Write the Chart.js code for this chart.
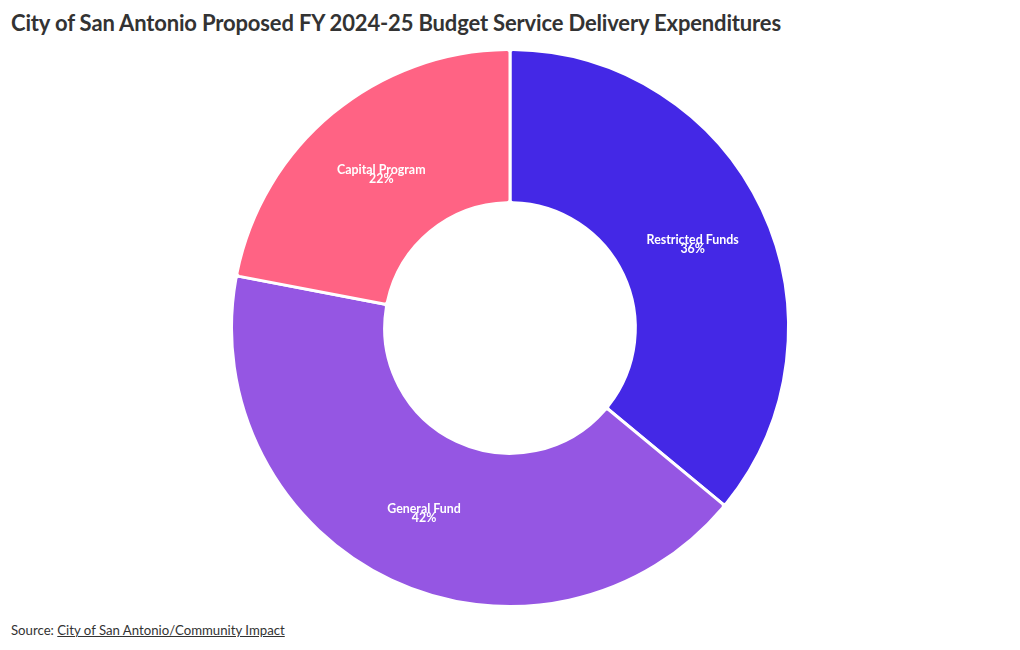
<!DOCTYPE html>
<html><head><meta charset="utf-8">
<script src="https://cdn.jsdelivr.net/npm/chart.js@4"></script>
<style>
html,body{margin:0;padding:0;background:#fff;width:1020px;height:650px;overflow:hidden;font-family:"Source Sans Pro",Lato,"Noto Sans",sans-serif;}
#title{position:absolute;left:11px;top:9px;font-weight:bold;font-size:22px;color:#333;letter-spacing:-0.16px;}
#wrap{position:absolute;left:0;top:48px;width:1020px;height:560px;}
#src{position:absolute;left:11px;top:622px;font-size:13.2px;color:#333;}
#src a{color:#333;text-decoration:underline;}
</style></head><body>
<div id="title">City of San Antonio Proposed FY 2024-25 Budget Service Delivery Expenditures</div>
<div id="wrap"><canvas id="c"></canvas></div>
<div id="src">Source: <a>City of San Antonio/Community Impact</a></div>
<script>
const categories = ["Restricted Funds", "General Fund", "Capital Program"];
const values = [36, 42, 22];
const colors = ["#4428E6", "#9556E3", "#FF6384"];

const labelPlugin = {
  id: 'sliceLabels',
  afterDatasetsDraw(chart) {
    const ctx = chart.ctx;
    const meta = chart.getDatasetMeta(0);
    ctx.save();
    ctx.fillStyle = '#fff';
    ctx.textAlign = 'center';
    ctx.textBaseline = 'middle';
    ctx.font = 'bold 12.4px "Source Sans Pro", Lato, "Noto Sans", sans-serif';
    meta.data.forEach((arc, i) => {
      const p = arc.tooltipPosition();
      ctx.fillText(categories[i], p.x, p.y - 2);
      ctx.fillText(values[i] + '%', p.x, p.y + 7);
    });
    ctx.restore();
  }
};

new Chart(document.getElementById('c'), {
  type: 'doughnut',
  data: { labels: categories, datasets: [{ data: values, backgroundColor: colors, borderColor: '#fff', borderWidth: 3, borderRadius: 3 }] },
  options: {
    responsive: true, maintainAspectRatio: false, animation: false,
    cutout: '45%',
    plugins: { legend: { display: false }, tooltip: { enabled: false } }
  },
  plugins: [labelPlugin]
});
</script>
</body></html>
